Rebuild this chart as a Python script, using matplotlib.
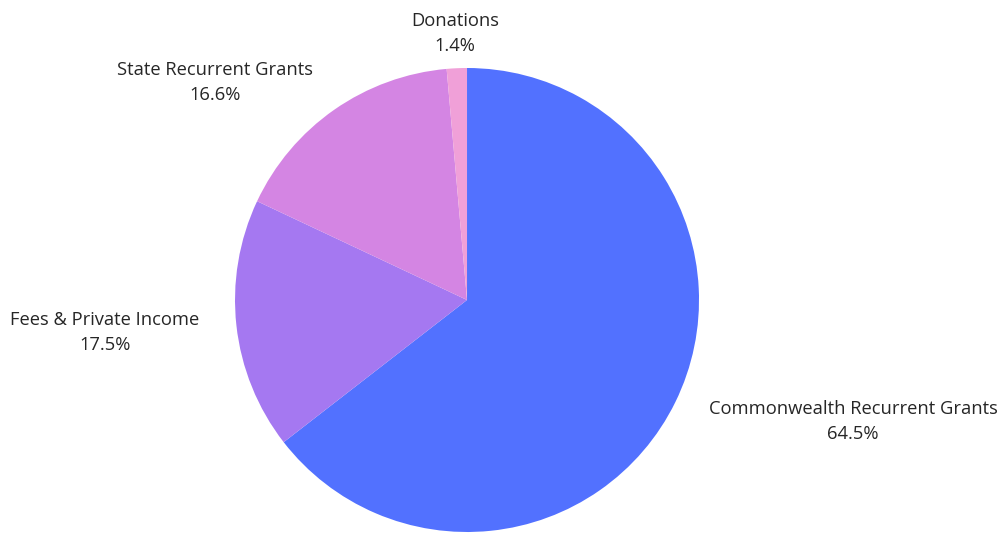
import matplotlib.pyplot as plt

# funding sources
categories = ["Commonwealth Recurrent Grants", "Fees & Private Income",
              "State Recurrent Grants", "Donations"]
shares = [64.5, 17.5, 16.6, 1.4]
colors = ["#5271FF", "#A578F1", "#D485E3", "#F0A0D8"]

plt.rcParams['font.family'] = ['Open Sans', 'DejaVu Sans']

fig = plt.figure(figsize=(10.05, 5.33), dpi=100)
ax = fig.add_axes([232 / 1005 + 0.003, 1 / 533, 464 / 1005, 464 / 533])

labels = [f"{c}\n{v}%" for c, v in zip(categories, shares)]
wedges, texts = ax.pie(shares, labels=labels, colors=colors, startangle=90,
                       counterclock=False, labeldistance=1.16,
                       textprops=dict(fontsize=13.2, color="#262626",
                                      multialignment="center",
                                      linespacing=1.5))
texts[-1].set_horizontalalignment("center")
# nudge labels down a little
for t in texts:
    x, y = t.get_position()
    t.set_position((x, y - 0.012))

ax.set_xlim(-1, 1)
ax.set_ylim(-1, 1)
ax.set_aspect("equal")

fig.savefig("out.png", dpi=100)
